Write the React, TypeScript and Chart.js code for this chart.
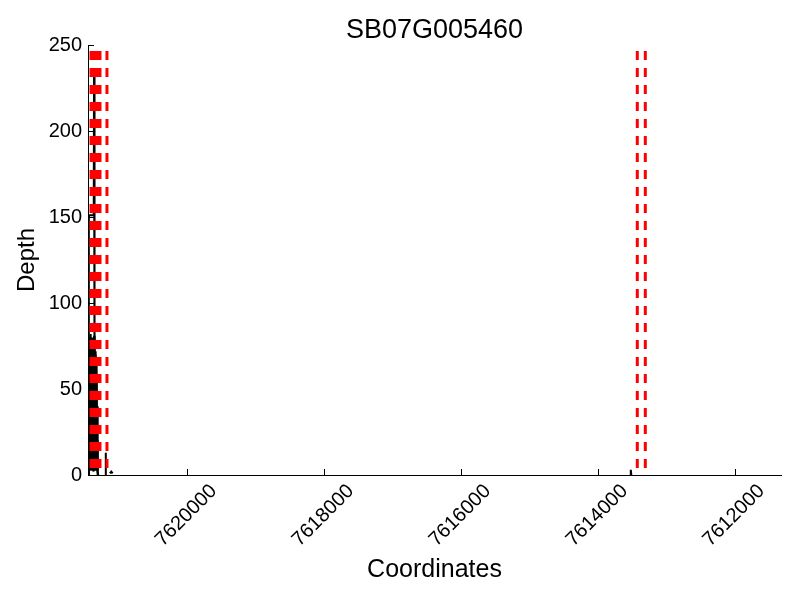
import React, { useEffect, useRef } from "react";
import { Chart, registerables } from "chart.js";

Chart.register(...registerables);

const titleText = "SB07G005460";
const xTitle = "Coordinates";
const yTitle = "Depth";

const xMin = 7611328;
const xMax = 7621450;
const yMin = 0;
const yMax = 250;

const xTicks = [7612000, 7614000, 7616000, 7618000, 7620000];
const yTicks = [0, 50, 100, 150, 200, 250];

// coverage depth along coordinates (null breaks the line)
const covPos = [
  7621442, 7621438, 7621435, 7621366, 7621362, 7621357, 7621352, 7621347,
  7621342, 7621337, 7621332, 7621327, 7621322, 7621317, 7621312, 7621306,
  7621300, 7621250, 7621196, 7621192, 7621188, 7621160, 7621130, 7621110,
  7621090, 7617000, 7613530, 7613522, 7613514,
];
const covDepth: (number | null)[] = [
  0, 148, 151, 151, 232, 60, 85, 25,
  70, 15, 55, 10, 40, 5, 20, 2,
  0, null, 0, 13, 0, null, 1, 2,
  1, null, 0, 3, 0,
];

// dense low-depth coverage (overlapping reads) near the gene start
const densePos = [
  7621436, 7621431, 7621426, 7621421, 7621416, 7621411, 7621406, 7621401,
  7621396, 7621391, 7621386, 7621381, 7621376, 7621371, 7621366, 7621361,
  7621356, 7621351, 7621346, 7621341, 7621336, 7621331, 7621326, 7621321,
  7621316, 7621311, 7621306,
];
const denseDepth = [
  0, 80, 5, 78, 8, 82, 3, 76,
  10, 80, 4, 75, 6, 79, 2, 81,
  7, 77, 3, 72, 9, 66, 4, 58,
  6, 40, 0,
];

// red dashed boundary lines (coordinates)
const boundaryPos = [
  7621406, 7621392, 7621377, 7621362, 7621348, 7621333, 7621319, 7621290, 7621275,
  7621173, 7613427, 7613310,
];
const boundaryTop = 246.5;

const fontFamily = "'Liberation Sans', Arial, sans-serif";

export default function App() {
  const ref = useRef<HTMLCanvasElement | null>(null);

  useEffect(() => {
    const canvas = ref.current;
    if (!canvas) return;

    const datasets: any[] = [
      {
        data: covPos.map((x, i) => ({ x, y: covDepth[i] })),
        borderColor: "#000000",
        borderWidth: 2,
        pointRadius: 0,
        tension: 0,
        spanGaps: false,
        fill: false,
        order: 2,
      },
      {
        data: densePos.map((x, i) => ({ x, y: denseDepth[i] })),
        borderColor: "#000000",
        borderWidth: 2,
        pointRadius: 0,
        tension: 0,
        fill: false,
        order: 2,
      },
      ...boundaryPos.map((x) => ({
        data: [
          { x, y: boundaryTop },
          { x, y: 0 },
        ],
        borderColor: "#ff0000",
        borderWidth: 3,
        borderDash: [9, 8],
        pointRadius: 0,
        fill: false,
        order: 1,
      })),
    ];

    const decor = {
      id: "decor",
      afterDraw(chart: any) {
        const ctx = chart.ctx as CanvasRenderingContext2D;
        const xs = chart.scales.x;
        const ys = chart.scales.y;
        const area = chart.chartArea;
        ctx.save();
        ctx.fillStyle = "#000";
        ctx.strokeStyle = "#000";
        ctx.lineWidth = 1;

        // tick marks (inward)
        xTicks.forEach((t) => {
          const px = Math.round(xs.getPixelForValue(t)) + 0.5;
          ctx.beginPath();
          ctx.moveTo(px, area.bottom);
          ctx.lineTo(px, area.bottom - 6);
          ctx.stroke();
        });
        yTicks.forEach((t) => {
          const py = Math.round(ys.getPixelForValue(t)) + 0.5;
          ctx.beginPath();
          ctx.moveTo(area.left, py);
          ctx.lineTo(area.left + 6, py);
          ctx.stroke();
        });

        // y tick labels
        ctx.font = `20px ${fontFamily}`;
        ctx.textAlign = "right";
        ctx.textBaseline = "middle";
        yTicks.forEach((t) => {
          ctx.fillText(String(t), area.left - 6, ys.getPixelForValue(t));
        });

        // x tick labels rotated 45 deg
        xTicks.forEach((t) => {
          const label = String(t);
          const w = ctx.measureText(label).width;
          const h = 20 * 0.72;
          const half = (w + h) / (2 * Math.SQRT2);
          const cx = xs.getPixelForValue(t) - 1;
          const cy = area.bottom + 8 + half;
          ctx.save();
          ctx.translate(cx, cy);
          ctx.rotate(-Math.PI / 4);
          ctx.textAlign = "center";
          ctx.textBaseline = "middle";
          ctx.fillText(label, 0, 0);
          ctx.restore();
        });

        // title
        const midX = (area.left + area.right) / 2;
        ctx.font = `27px ${fontFamily}`;
        ctx.textAlign = "center";
        ctx.textBaseline = "alphabetic";
        ctx.fillText(titleText, midX, 38);

        // x title
        ctx.font = `25px ${fontFamily}`;
        ctx.fillText(xTitle, midX, 577);

        // y title
        ctx.font = `24px ${fontFamily}`;
        ctx.save();
        ctx.translate(34, (area.top + area.bottom) / 2);
        ctx.rotate(-Math.PI / 2);
        ctx.textAlign = "center";
        ctx.textBaseline = "alphabetic";
        ctx.fillText(yTitle, 0, 0);
        ctx.restore();

        ctx.restore();
      },
    };

    const chart = new Chart(canvas, {
      type: "line",
      data: { datasets },
      options: {
        responsive: false,
        animation: false,
        layout: { padding: { left: 88, right: 19, top: 45, bottom: 125 } },
        plugins: {
          legend: { display: false },
          tooltip: { enabled: false },
          title: { display: false },
        },
        scales: {
          x: {
            type: "linear",
            reverse: true,
            min: xMin,
            max: xMax,
            ticks: { display: false },
            grid: { display: false },
            border: { display: true, color: "#000", width: 1 },
            afterFit: (s: any) => {
              s.height = 0;
            },
          },
          y: {
            type: "linear",
            min: yMin,
            max: yMax,
            ticks: { display: false },
            grid: { display: false },
            border: { display: true, color: "#000", width: 1 },
            afterFit: (s: any) => {
              s.width = 0;
            },
          },
        },
      } as any,
      plugins: [decor],
    });

    return () => chart.destroy();
  }, []);

  return (
    <div style={{ position: "fixed", left: 0, top: 0, width: 800, height: 600, background: "#fff" }}>
      <canvas ref={ref} width={800} height={600} />
    </div>
  );
}
